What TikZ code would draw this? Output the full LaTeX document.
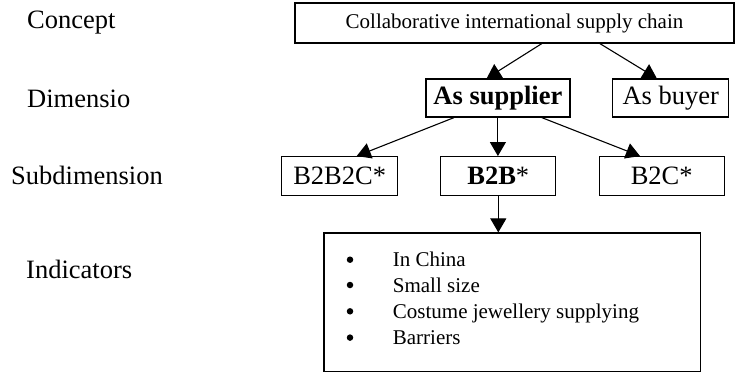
\documentclass[tikz,border=0pt]{standalone}
\usepackage{fontspec}
\setmainfont{Liberation Serif}
\usetikzlibrary{arrows.meta}
\begin{document}
\begin{tikzpicture}[x=1pt,y=-1pt,
  big/.style={font=\fontsize{26.5}{31}\selectfont},
  small/.style={font=\fontsize{21}{25}\selectfont},
  box/.style={draw,line width=1.3pt,inner sep=0pt,anchor=center},
  level/.style={big,anchor=base west,inner sep=0pt},
  item/.style={small,anchor=base west,inner sep=0pt},
  dot/.style={circle,fill,inner sep=0pt,minimum size=6.5pt},
  link/.style={line width=1.1pt,-{Triangle[length=14pt,width=16pt]}}]
\useasboundingbox (0,0) rectangle (735,373);

% level labels on the left
\node[level] (lconcept) at (27,28) {Concept};
\node[level] (ldim) at (27,107) {Dimensio};
\node[level] (lsub) at (11,184) {Subdimension};
\node[level] (lind) at (26,278) {Indicators};

% boxes
\node[box,small,minimum width=439pt,minimum height=40pt] (top) at (514.5,23) {Collaborative international supply chain};
\node[box,big,minimum width=144pt,minimum height=38pt] (sup) at (497.9,98) {\textbf{As supplier}};
\node[box,big,minimum width=116pt,minimum height=38pt] (buy) at (670.8,98) {As buyer};
\node[box,big,minimum width=116pt,minimum height=39pt] (bbc) at (339.7,176.2) {B2B2C*};
\node[box,big,minimum width=115pt,minimum height=39pt] (bb) at (498.3,176.2) {\textbf{B2B}*};
\node[box,big,minimum width=125pt,minimum height=39pt] (bc) at (661.7,176.2) {B2C*};
\node[box,minimum width=376.5pt,minimum height=138.7pt] (ind) at (512.2,302.4) {};

% indicator list
\node[dot] (d1) at (350,259.7) {};
\node[item] (t1) at (392.7,266.7) {In China};
\node[dot] (d2) at (350,285) {};
\node[item] (t2) at (392.7,292) {Small size};
\node[dot] (d3) at (350,311.3) {};
\node[item] (t3) at (392.7,318.3) {Costume jewellery supplying};
\node[dot] (d4) at (350,337.6) {};
\node[item] (t4) at (392.7,344.6) {Barriers};

% connectors
\draw[link] ([xshift=27.2pt]top.south) -- ([xshift=-11.2pt]sup.north);
\draw[link] ([xshift=85.5pt]top.south) -- ([xshift=-14pt]buy.north);
\draw[link] ([xshift=-44pt]sup.south) -- ([xshift=17pt]bbc.north);
\draw[link] (sup.south) -- (sup.south |- bb.north);
\draw[link] ([xshift=44pt]sup.south) -- ([xshift=-21.7pt]bc.north);
\draw[link] (bb.south) -- (bb.south |- ind.north);
\end{tikzpicture}
\end{document}
